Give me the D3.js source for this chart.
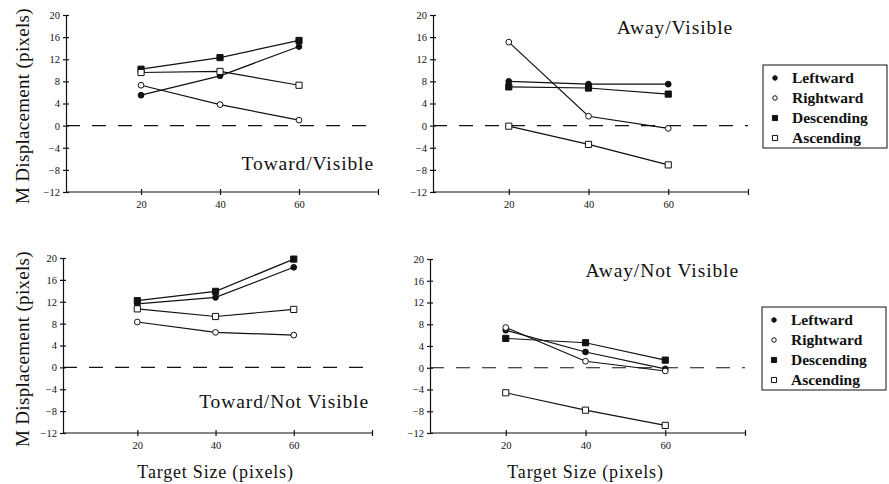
<!DOCTYPE html>
<html>
<head>
<meta charset="utf-8">
<script src="https://cdn.jsdelivr.net/npm/d3@7"></script>
<style>
	body { margin: 0; background: #fff; }
	text { font-family: "Liberation Serif", "Times New Roman", serif; fill: #111; }
	.axis path, .axis line { stroke: #111; stroke-width: 1.2; }
	.axis text { font-size: 10.5px; }
</style>
</head>
<body>
<script>
var targetSizes = [20, 40, 60];
var xTickValues = [20, 40, 60, 80];
var yTickValues = [-12, -8, -4, 0, 4, 8, 12, 16, 20];
var seriesNames = ["Leftward", "Rightward", "Descending", "Ascending"];
var panelTitles = ["Toward/Visible", "Away/Visible", "Toward/Not Visible", "Away/Not Visible"];

// one row per series, same order as seriesNames, one value per target size
var towardVisible    = [[5.5, 9.0, 14.3], [7.3, 3.8, 1.0], [10.2, 12.3, 15.4], [9.6, 9.8, 7.3]];
var awayVisible      = [[8.0, 7.5, 7.5], [15.1, 1.7, -0.5], [7.0, 6.8, 5.7], [-0.1, -3.4, -7.1]];
var towardNotVisible = [[11.6, 12.8, 18.3], [8.3, 6.4, 5.9], [12.2, 13.9, 19.8], [10.7, 9.3, 10.6]];
var awayNotVisible   = [[6.9, 2.9, -0.2], [7.4, 1.2, -0.6], [5.4, 4.6, 1.4], [-4.6, -7.8, -10.6]];

var W = 889, H = 484;
var svg = d3.select('body').append('svg')
	.attr('width', W)
	.attr('height', H);

// layout of the four panels
var panels = [
	{ data: towardVisible, title: panelTitles[0], left: 66, right: 378, top: 15, bottom: 192, titleX: 374, titleY: 170, yLabel: 106 },
	{ data: awayVisible, title: panelTitles[1], left: 433, right: 748, top: 15, bottom: 192, titleX: 733, titleY: 34, legend: [763, 65] },
	{ data: towardNotVisible, title: panelTitles[2], left: 63, right: 372, top: 258, bottom: 433, titleX: 369, titleY: 408, yLabel: 349, xLabel: true },
	{ data: awayNotVisible, title: panelTitles[3], left: 430, right: 745, top: 259, bottom: 433, titleX: 739, titleY: 277, xLabel: true, legend: [762, 307] }
];

// marker per series: filled circle, open circle, filled square, open square
var markerType = [d3.symbolCircle, d3.symbolCircle, d3.symbolSquare, d3.symbolSquare];
var markerFill = ['#111', '#fff', '#111', '#fff'];

panels.forEach(drawPanel);

function drawPanel(p){
	var x = d3.scaleLinear().domain([1, 80]).range([p.left, p.right]);
	var y = d3.scaleLinear().domain([-12, 20]).range([p.bottom, p.top]);
	var g = svg.append('g');

	var yAxis = g.append('g')
		.attr('class', 'axis')
		.attr('transform', 'translate(' + p.left + ',0)')
		.call(d3.axisLeft(y).tickValues(yTickValues).tickSize(3).tickSizeOuter(0).tickPadding(3));
	yAxis.selectAll('.tick line').attr('x1', 3);

	var xAxis = g.append('g')
		.attr('class', 'axis')
		.attr('transform', 'translate(0,' + p.bottom + ')')
		.call(d3.axisBottom(x).tickValues(xTickValues).tickSize(3).tickSizeOuter(0).tickPadding(6)
			.tickFormat(function(d){ return d == 80 ? '' : d; }));
	xAxis.selectAll('.tick line').attr('y1', -3);
	xAxis.select('.domain').attr('d', 'M' + p.left + ',0H' + p.right);

	// dashed zero line
	g.append('line')
		.attr('x1', p.left).attr('x2', p.right)
		.attr('y1', y(0)).attr('y2', y(0))
		.style('stroke', '#111')
		.style('stroke-width', 1.2)
		.style('stroke-dasharray', '14,12');

	var line = d3.line()
		.x(function(d, i){ return x(targetSizes[i]); })
		.y(function(d){ return y(d); });

	g.selectAll('path.series')
		.data(p.data)
		.enter().append('path')
		.attr('class', 'series')
		.attr('d', line)
		.style('fill', 'none')
		.style('stroke', '#111')
		.style('stroke-width', 1.2);

	p.data.forEach(function(vals, s){
		g.selectAll('path.m' + s)
			.data(vals)
			.enter().append('path')
			.attr('class', 'm' + s)
			.attr('transform', function(d, i){ return 'translate(' + x(targetSizes[i]) + ',' + y(d) + ')'; })
			.attr('d', d3.symbol().type(markerType[s]).size(s < 2 ? 26 : 38))
			.style('fill', markerFill[s])
			.style('stroke', '#111')
			.style('stroke-width', 1);
	});

	g.append('text')
		.attr('x', p.titleX)
		.attr('y', p.titleY)
		.attr('text-anchor', 'end')
		.style('font-size', '19.5px')
		.style('letter-spacing', '0.9px')
		.text(p.title);

	if(p.yLabel){
		g.append('text')
			.attr('transform', 'translate(29,' + p.yLabel + ') rotate(-90)')
			.attr('text-anchor', 'middle')
			.style('font-size', '19px')
			.style('letter-spacing', '0.3px')
			.text('M Displacement (pixels)');
	}
	if(p.xLabel){
		g.append('text')
			.attr('x', x(40))
			.attr('y', 478)
			.attr('text-anchor', 'middle')
			.style('font-size', '18px')
			.style('letter-spacing', '0.8px')
			.text('Target Size (pixels)');
	}
	if(p.legend) drawLegend(p.legend[0], p.legend[1]);
}

function drawLegend(lx, ly){
	var lg = svg.append('g').attr('transform', 'translate(' + lx + ',' + ly + ')');
	lg.append('rect')
		.attr('x', 0).attr('y', 0)
		.attr('width', 124).attr('height', 83)
		.style('fill', 'none')
		.style('stroke', '#111')
		.style('stroke-width', 1);
	var item = lg.selectAll('g.item')
		.data(seriesNames)
		.enter().append('g')
		.attr('class', 'item')
		.attr('transform', function(d, i){ return 'translate(0,' + (13 + i * 20) + ')'; });
	item.append('path')
		.attr('transform', 'translate(12,0)')
		.attr('d', function(d, i){ return d3.symbol().type(markerType[i]).size(i < 2 ? 16 : 26)(); })
		.style('fill', function(d, i){ return markerFill[i]; })
		.style('stroke', '#111')
		.style('stroke-width', 1);
	item.append('text')
		.attr('x', 29)
		.attr('y', 5)
		.style('font-size', '15.5px')
		.style('font-weight', 'bold')
		.text(function(d){ return d; });
}
</script>
</body>
</html>
